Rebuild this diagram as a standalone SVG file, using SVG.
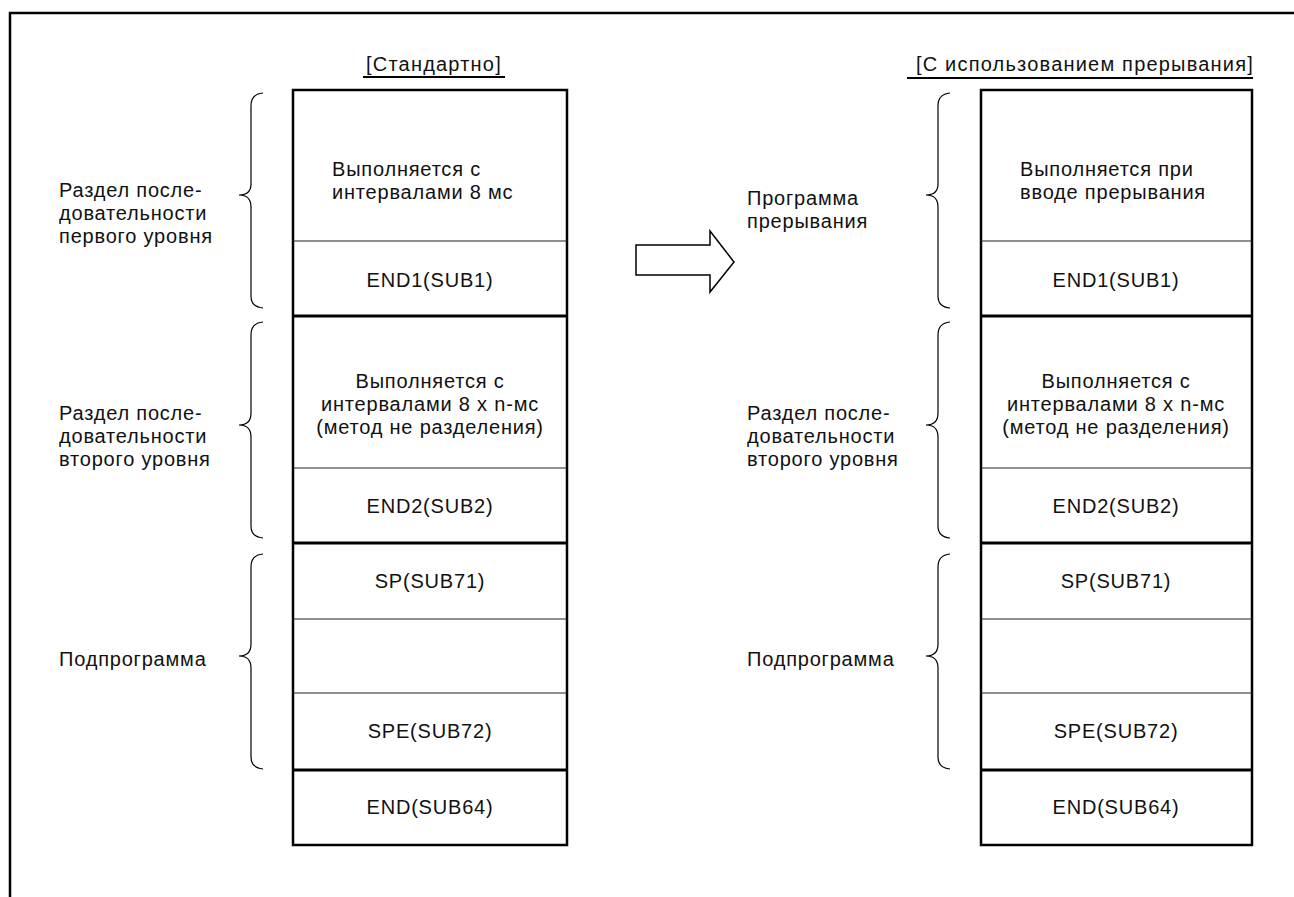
<svg xmlns="http://www.w3.org/2000/svg" width="1294" height="897" viewBox="0 0 1294 897">
<style>
text{font-family:"Liberation Sans",Arial,sans-serif;font-size:20px;fill:#111;letter-spacing:0.8px}
.c{text-anchor:middle}
.t{letter-spacing:1.2px}
.frame{fill:none;stroke:#000;stroke-width:2.5}
.box{fill:none;stroke:#000;stroke-width:2.5}
.thick{stroke:#000;stroke-width:3}
.thin{stroke:#222;stroke-width:1.2}
.brace{fill:none;stroke:#000;stroke-width:1.2}
.ul{stroke:#000;stroke-width:2}
</style>
<rect width="1294" height="897" fill="#fff"/>
<path class="frame" d="M10,897 L10,13 L1294,13"/>

<g id="title-left">
<text class="c t" x="434" y="71">[Стандартно]</text>
<line class="ul" x1="363" y1="77" x2="505" y2="77"/>
</g>
<g id="title-right">
<text class="c t" x="1085" y="71">[С использованием прерывания]</text>
<line class="ul" x1="907" y1="78" x2="1253" y2="78"/>
</g>

<g id="stack-left">
<rect class="box" x="293" y="90" width="274" height="755"/>
<line class="thin" x1="293" y1="241" x2="567" y2="241"/>
<line class="thick" x1="293" y1="316" x2="567" y2="316"/>
<line class="thin" x1="293" y1="468" x2="567" y2="468"/>
<line class="thick" x1="293" y1="543" x2="567" y2="543"/>
<line class="thin" x1="293" y1="619" x2="567" y2="619"/>
<line class="thin" x1="293" y1="693" x2="567" y2="693"/>
<line class="thick" x1="293" y1="770" x2="567" y2="770"/>
<text x="332" y="176">Выполняется с</text>
<text x="332" y="199">интервалами 8 мс</text>
<text class="c" x="430" y="287">END1(SUB1)</text>
<text class="c" x="430" y="388">Выполняется с</text>
<text class="c" x="430" y="411">интервалами 8 x n-мс</text>
<text class="c" x="430" y="434">(метод не разделения)</text>
<text class="c" x="430" y="513">END2(SUB2)</text>
<text class="c" x="430" y="588">SP(SUB71)</text>
<text class="c" x="430" y="738">SPE(SUB72)</text>
<text class="c" x="430" y="814">END(SUB64)</text>
</g>

<g id="stack-right">
<rect class="box" x="981" y="90" width="271" height="755"/>
<line class="thin" x1="981" y1="241" x2="1252" y2="241"/>
<line class="thick" x1="981" y1="316" x2="1252" y2="316"/>
<line class="thin" x1="981" y1="468" x2="1252" y2="468"/>
<line class="thick" x1="981" y1="543" x2="1252" y2="543"/>
<line class="thin" x1="981" y1="619" x2="1252" y2="619"/>
<line class="thin" x1="981" y1="693" x2="1252" y2="693"/>
<line class="thick" x1="981" y1="770" x2="1252" y2="770"/>
<text x="1020" y="176">Выполняется при</text>
<text x="1020" y="199">вводе прерывания</text>
<text class="c" x="1116" y="287">END1(SUB1)</text>
<text class="c" x="1116" y="388">Выполняется с</text>
<text class="c" x="1116" y="411">интервалами 8 x n-мс</text>
<text class="c" x="1116" y="434">(метод не разделения)</text>
<text class="c" x="1116" y="513">END2(SUB2)</text>
<text class="c" x="1116" y="588">SP(SUB71)</text>
<text class="c" x="1116" y="738">SPE(SUB72)</text>
<text class="c" x="1116" y="814">END(SUB64)</text>
</g>

<g id="labels-left">
<text x="59" y="197">Раздел после-</text>
<text x="59" y="220">довательности</text>
<text x="59" y="243">первого уровня</text>
<text x="59" y="420">Раздел после-</text>
<text x="59" y="443">довательности</text>
<text x="59" y="466">второго уровня</text>
<text x="59" y="666">Подпрограмма</text>
</g>
<g id="labels-right">
<text x="747" y="205">Программа</text>
<text x="747" y="228">прерывания</text>
<text x="747" y="420">Раздел после-</text>
<text x="747" y="443">довательности</text>
<text x="747" y="466">второго уровня</text>
<text x="747" y="666">Подпрограмма</text>
</g>

<g id="connectors">
<path class="brace" d="M263,93 Q251,94 251,106 L251,184 Q251,195 239,195 Q251,195 251,207 L251,296 Q251,307 263,308"/>
<path class="brace" d="M263,322 Q251,323 251,335 L251,413 Q251,425 239,425 Q251,425 251,437 L251,526 Q251,537 263,538"/>
<path class="brace" d="M263,554 Q251,555 251,567 L251,644 Q251,656 239,656 Q251,656 251,668 L251,757 Q251,768 263,769"/>
<path class="brace" d="M950,93 Q938,94 938,106 L938,184 Q938,195 926,195 Q938,195 938,207 L938,296 Q938,307 950,308"/>
<path class="brace" d="M950,322 Q938,323 938,335 L938,413 Q938,425 926,425 Q938,425 938,437 L938,526 Q938,537 950,538"/>
<path class="brace" d="M950,554 Q938,555 938,567 L938,644 Q938,656 926,656 Q938,656 938,668 L938,757 Q938,768 950,769"/>
<path d="M636,245 L710,245 L710,231 L734,262 L710,292 L710,275 L636,275 Z" fill="#fff" stroke="#000" stroke-width="1.5"/>
</g>
</svg>
